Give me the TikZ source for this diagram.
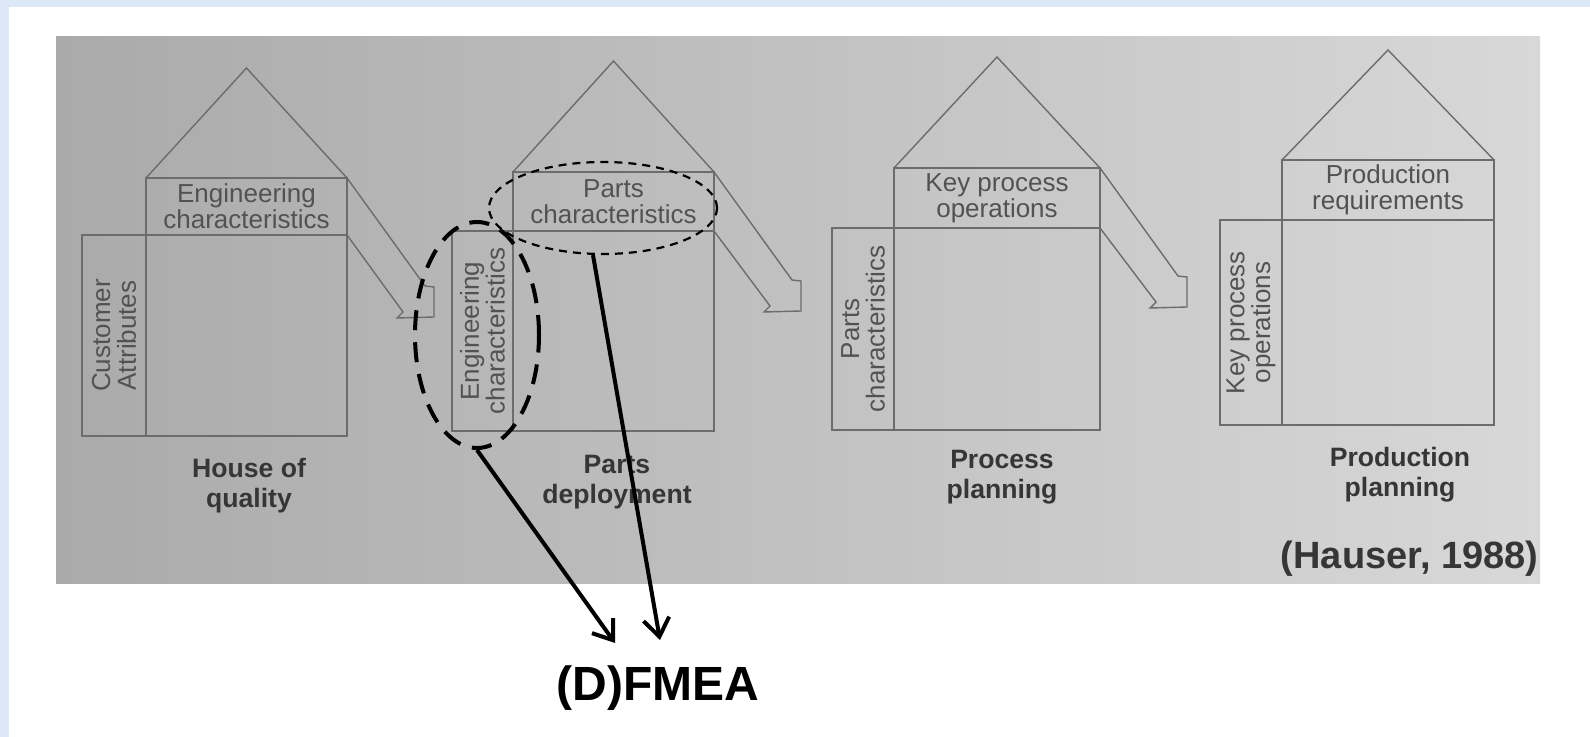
\documentclass[tikz,border=0pt]{standalone}
\usepackage{fontspec}
\setmainfont{Liberation Sans}
\usetikzlibrary{arrows.meta,shapes.geometric,positioning}

\definecolor{framebl}{HTML}{DCE8F5}
\definecolor{photoL}{HTML}{AAAAAA}
\definecolor{photoR}{HTML}{D8D8D8}
\definecolor{pencil}{HTML}{6C6C6C}
\definecolor{ink}{HTML}{525252}
\definecolor{darkink}{HTML}{363636}

\begin{document}
\begin{tikzpicture}[x=0.5pt,y=-0.5pt]
  \tikzstyle{house}=[draw=pencil,line width=0.7pt]
  \tikzstyle{room}=[house,inner sep=0pt,outer sep=0pt]
  \tikzstyle{cell}=[font=\fontsize{13}{12.8}\selectfont,text=ink,align=center,inner sep=0pt]
  \tikzstyle{stage}=[font=\bfseries\fontsize{13.3}{15}\selectfont,text=darkink,align=center,inner sep=0pt]
  \tikzstyle{bigring}=[ellipse,draw,line width=2pt,dash pattern=on 10pt off 6pt,inner sep=0pt]
  \tikzstyle{smallring}=[ellipse,draw,line width=1.1pt,dash pattern=on 4pt off 3pt,inner sep=0pt]
  \tikzstyle{pointer}=[-{Straight Barb[length=9pt,width=13pt]},line width=2pt]
  % page and scanned sheet
  \useasboundingbox (0,0) rectangle (1590,737);
  \fill[white] (0,0) rectangle (1590,737);
  \fill[framebl] (0,0) rectangle (1590,7);
  \fill[framebl] (0,0) rectangle (9,737);
  \shade[left color=photoL,right color=photoR] (56,37) rectangle (1540,583);

  % house of quality
  \node[room,minimum width=100.5pt,minimum height=100.5pt] (body1) at (246.5,335.5) {};
  \node[room,cell,minimum width=100.5pt,minimum height=28.5pt] (hdr1) [above=0pt of body1] {Engineering\\characteristics};
  \draw[house] (body1.north west) -- ++(-64,0) |- (body1.south west);
  \node[cell,rotate=90] (col1) at (114,335.5) {Customer\\Attributes};
  \draw[house] (hdr1.north west) -- (246.5,68) -- (hdr1.north east);
  \draw[house] (hdr1.north east) -- ++(78,108) -- ++(9,1) -- ++(0,30) -- ++(-37,1) -- ++(6,-6) -- (body1.north east);
  \node[stage] (lab1) at (249,486) {House of\\quality};

  % parts deployment
  \node[room,minimum width=100.5pt,minimum height=100pt] (body2) at (613.5,331) {};
  \node[room,cell,minimum width=100.5pt,minimum height=29.5pt] (hdr2) [above=0pt of body2] {Parts\\characteristics};
  \draw[house] (body2.north west) -- ++(-61,0) |- (body2.south west);
  \node[cell,rotate=90] (col2) at (482.5,331) {Engineering\\characteristics};
  \draw[house] (hdr2.north west) -- (613.5,61) -- (hdr2.north east);
  \draw[house] (hdr2.north east) -- ++(78,108) -- ++(9,1) -- ++(0,30) -- ++(-37,1) -- ++(6,-6) -- (body2.north east);
  \node[stage] (lab2) at (617,482) {Parts\\deployment};

  % process planning
  \node[room,minimum width=103pt,minimum height=101pt] (body3) at (997,329) {};
  \node[room,cell,minimum width=103pt,minimum height=30pt] (hdr3) [above=0pt of body3] {Key process\\operations};
  \draw[house] (body3.north west) -- ++(-62,0) |- (body3.south west);
  \node[cell,rotate=90] (col3) at (863,329) {Parts\\characteristics};
  \draw[house] (hdr3.north west) -- (997,57) -- (hdr3.north east);
  \draw[house] (hdr3.north east) -- ++(78,108) -- ++(9,1) -- ++(0,30) -- ++(-37,1) -- ++(6,-6) -- (body3.north east);
  \node[stage] (lab3) at (1002,477) {Process\\planning};

  % production planning
  \node[room,minimum width=106pt,minimum height=102.5pt] (body4) at (1388,322.5) {};
  \node[room,cell,minimum width=106pt,minimum height=30pt] (hdr4) [above=0pt of body4] {Production\\requirements};
  \draw[house] (body4.north west) -- ++(-62,0) |- (body4.south west);
  \node[cell,rotate=90] (col4) at (1251,322.5) {Key process\\operations};
  \draw[house] (hdr4.north west) -- (1388,50) -- (hdr4.north east);
  \node[stage] (lab4) at (1400,475) {Production\\planning};

  \node[font=\bfseries\fontsize{19}{19}\selectfont,text=darkink,anchor=base east,inner sep=0pt] (src) at (1539,568) {(Hauser, 1988)};

  % marked inputs and where they go
  \node[bigring,minimum width=62pt,minimum height=113pt] (ecring) at (477,335) {};
  \node[smallring,minimum width=114pt,minimum height=46pt] (pcring) at (603,208) {};
  \node[font=\bfseries\fontsize{24}{24}\selectfont,anchor=base,inner sep=0pt] (fmea) at (658,700) {(D)FMEA};
  \coordinate (tipe) at (615,643);
  \coordinate (tipp) at (660,640);
  \draw[pointer] (ecring.south) -- (tipe);
  \draw[pointer] ([xshift=-5pt]pcring.south) -- (tipp);
\end{tikzpicture}
\end{document}
